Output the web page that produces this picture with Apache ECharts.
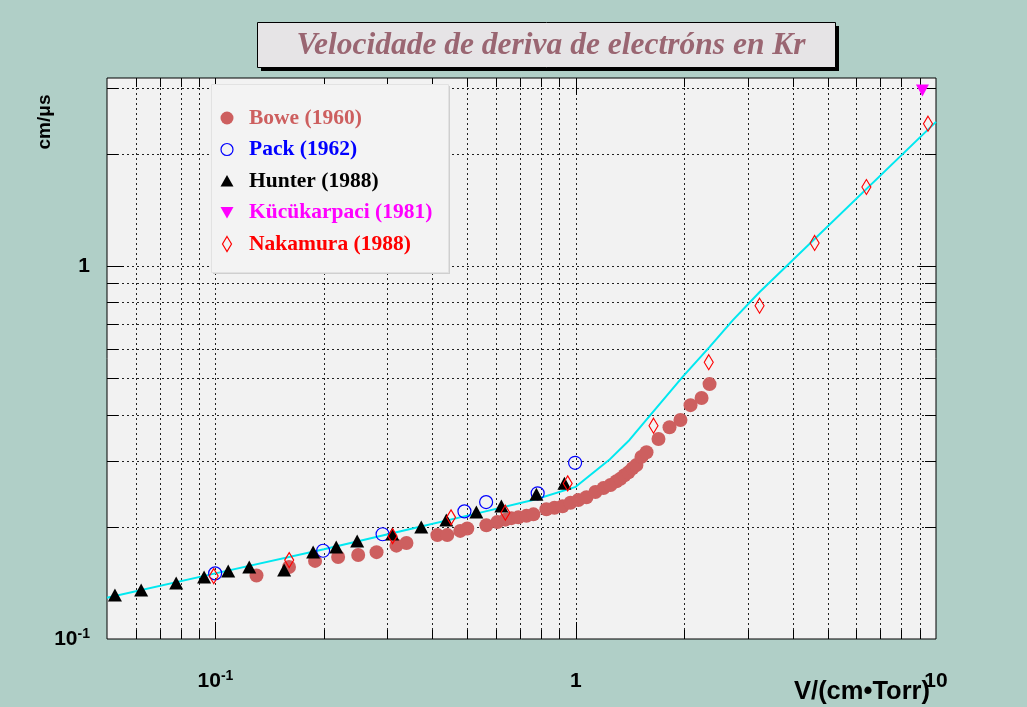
<!DOCTYPE html>
<html><head><meta charset="utf-8">
<script src="https://cdn.jsdelivr.net/npm/echarts@6/dist/echarts.min.js"></script>
<style>html,body{margin:0;padding:0;background:#b0cfc7;} #c{width:1027px;height:707px;}</style>
</head><body><div id="c"></div>
<script>
// ---- data ----
const titleText = 'Velocidade de deriva de electróns en Kr';
const xName = 'V/(cm•Torr)';
const yName = 'cm/μs';
const seriesNames = ['Bowe (1960)', 'Pack (1962)', 'Hunter (1988)', 'Kücükarpaci (1981)', 'Nakamura (1988)'];

const boweX = [0.130,0.160,0.189,0.219,0.249,0.280,0.318,0.339,0.413,0.440,0.478,0.500,0.565,0.606,0.638,0.663,0.693,0.730,0.763,0.829,0.873,0.919,0.967,1.017,1.071,1.134,1.194,1.249,1.297,1.331,1.366,1.401,1.437,1.474,1.522,1.572,1.697,1.821,1.953,2.083,2.235,2.352];
const boweY = [0.148,0.156,0.162,0.166,0.168,0.171,0.178,0.181,0.190,0.190,0.195,0.198,0.202,0.206,0.209,0.211,0.212,0.214,0.216,0.223,0.225,0.227,0.232,0.236,0.240,0.248,0.254,0.259,0.265,0.269,0.275,0.280,0.287,0.293,0.308,0.317,0.344,0.370,0.387,0.424,0.443,0.483];

const packX = [0.0998,0.199,0.291,0.491,0.564,0.784,0.996];
const packY = [0.150,0.1725,0.191,0.220,0.233,0.246,0.297];

const hunterX = [0.0526,0.0622,0.0778,0.0930,0.1085,0.1241,0.1551,0.1867,0.2164,0.2474,0.3096,0.3726,0.4373,0.5299,0.6217,0.7777,0.9303];
const hunterY = [0.1312,0.1353,0.1413,0.1466,0.1522,0.1560,0.1531,0.1711,0.1764,0.1831,0.1912,0.1997,0.2085,0.2191,0.2273,0.2447,0.2619];

const kucukX = [9.17];
const kucukY = [2.96];

const nakX = [0.0989,0.1602,0.3102,0.4507,0.6378,0.950,1.644,2.340,3.238,4.604,6.409,9.501];
const nakY = [0.1475,0.1628,0.1888,0.2120,0.2182,0.2615,0.3735,0.5529,0.7838,1.155,1.632,2.413];

const curveX = [0.05,0.1,0.2,0.345,0.54,0.776,1.0,1.237,1.41,1.57,1.98,2.35,2.73,3.24,10];
const curveY = [0.129,0.150,0.174,0.197,0.218,0.237,0.256,0.302,0.342,0.387,0.505,0.607,0.717,0.853,2.44];

const xMin = 0.05, xMax = 10, yMin = 0.1, yMax = 3.2;

// ---- helpers ----
const zip = (a, b) => a.map((v, i) => [v, b[i]]);
function gridValues(lo, hi) {
  const out = [];
  for (let e = -3; e <= 2; e++) {
    for (let m = 1; m <= 9; m++) {
      const v = +(m * Math.pow(10, e)).toPrecision(3);
      if (v > lo * 1.0001 && v < hi * 0.9999) out.push(v);
    }
  }
  return out;
}
const isDecade = v => Math.abs(Math.log10(v) - Math.round(Math.log10(v))) < 1e-6;
function decLabel(v) {
  if (!isDecade(v)) return '';
  const r = Math.round(Math.log10(v));
  if (r === 0) return '{n|1}';
  if (r === 1) return '{n|10}';
  return '{n|10}{s|' + r + '}';
}
const xGrid = gridValues(xMin, xMax);
const yGrid = gridValues(yMin, yMax);

const DOT = [2, 3];
function vLine(params, api) {
  const v = api.value(0);
  const cs = params.coordSys;
  const x = Math.round(api.coord([v, 1])[0]) + 0.5;
  const len = isDecade(v) ? 17 : 9;
  const top = cs.y, bot = cs.y + cs.height;
  return { type: 'group', silent: true, children: [
    { type: 'line', shape: { x1: x, y1: top, x2: x, y2: bot }, style: { stroke: '#222', lineWidth: 1, lineDash: DOT } },
    { type: 'line', shape: { x1: x, y1: bot, x2: x, y2: bot - len }, style: { stroke: '#000', lineWidth: 1 } },
    { type: 'line', shape: { x1: x, y1: top, x2: x, y2: top + len }, style: { stroke: '#000', lineWidth: 1 } }
  ]};
}
function hLine(params, api) {
  const v = api.value(1);
  const cs = params.coordSys;
  const y = Math.round(api.coord([1, v])[1]) + 0.5;
  const len = isDecade(v) ? 17 : 11;
  const l = cs.x, r = cs.x + cs.width;
  return { type: 'group', silent: true, children: [
    { type: 'line', shape: { x1: l, y1: y, x2: r, y2: y }, style: { stroke: '#222', lineWidth: 1, lineDash: DOT } },
    { type: 'line', shape: { x1: l, y1: y, x2: l + len, y2: y }, style: { stroke: '#000', lineWidth: 1 } },
    { type: 'line', shape: { x1: r, y1: y, x2: r - len, y2: y }, style: { stroke: '#000', lineWidth: 1 } }
  ]};
}

const SANS = 'Liberation Sans';
const SERIF = 'Liberation Serif';
const lblRich = {
  n: { fontFamily: SANS, fontWeight: 'bold', fontSize: 21, color: '#000', lineHeight: 24 },
  s: { fontFamily: SANS, fontWeight: 'bold', fontSize: 14, color: '#000', verticalAlign: 'top', lineHeight: 14 }
};

const chart = echarts.init(document.getElementById('c'), null, { renderer: 'canvas' });

// legend (drawn as graphic to match ROOT TLegend layout)
const LZ = 100;
const LX = 227, LY0 = 118, LDY = 31.5;
const legendColors = ['#cd5f5f', '#0000ff', '#000000', '#ff00ff', '#ff0000'];
function legendMarker(i, cy) {
  const c = legendColors[i];
  if (i === 0) return { type: 'circle', z: LZ + 2, shape: { cx: LX, cy, r: 6.5 }, style: { fill: c } };
  if (i === 1) return { type: 'circle', z: LZ + 2, shape: { cx: LX, cy, r: 6 }, style: { fill: 'none', stroke: c, lineWidth: 1.2 } };
  if (i === 2) return { type: 'polygon', z: LZ + 2, shape: { points: [[LX, cy - 6], [LX + 6.5, cy + 5.5], [LX - 6.5, cy + 5.5]] }, style: { fill: c } };
  if (i === 3) return { type: 'polygon', z: LZ + 2, shape: { points: [[LX, cy + 6], [LX + 6.5, cy - 5.5], [LX - 6.5, cy - 5.5]] }, style: { fill: c } };
  return { type: 'polygon', z: LZ + 2, shape: { points: [[LX, cy - 7.5], [LX + 4.5, cy], [LX, cy + 7.5], [LX - 4.5, cy]] }, style: { fill: 'none', stroke: c, lineWidth: 1.2 } };
}
const legendEls = [
  { type: 'rect', z: LZ, shape: { x: 213, y: 86, width: 237, height: 188 }, style: { fill: '#cfcfcf' } },
  { type: 'rect', z: LZ + 1, shape: { x: 211.5, y: 84.5, width: 237, height: 188 }, style: { fill: '#f3f3f3', stroke: '#e2e2e2', lineWidth: 1 } }
];
seriesNames.forEach((n, i) => {
  const cy = LY0 + i * LDY;
  legendEls.push(legendMarker(i, cy));
  legendEls.push({ type: 'text', z: LZ + 2, style: { text: n, x: 249, y: cy, verticalAlign: 'middle', fill: legendColors[i], font: 'bold 21.5px "' + SERIF + '"' } });
});

const option = {
  backgroundColor: '#b0cfc7',
  animation: false,
  title: {
    text: titleText, left: 546, top: 24, textAlign: 'center',
    textStyle: { fontFamily: SERIF, fontStyle: 'italic', fontWeight: 'bold', fontSize: 31.5, color: '#9a6672', lineHeight: 34 }
  },
  grid: { left: 107, right: 91, top: 78, bottom: 68, show: true, backgroundColor: '#f2f2f2', borderColor: '#000', borderWidth: 1 },
  xAxis: {
    type: 'log', logBase: 10, min: xMin, max: xMax,
    axisLine: { show: false }, axisTick: { show: false }, splitLine: { show: false }, minorTick: { show: false },
    axisLabel: { formatter: decLabel, margin: 30, rich: lblRich, showMinLabel: true, showMaxLabel: true, hideOverlap: false }
  },
  yAxis: {
    type: 'log', logBase: 10, min: yMin, max: yMax,
    axisLine: { show: false }, axisTick: { show: false }, splitLine: { show: false }, minorTick: { show: false },
    axisLabel: { formatter: decLabel, margin: 17, rich: lblRich, showMinLabel: true, showMaxLabel: true, hideOverlap: false }
  },
  graphic: [
    { type: 'rect', z: -1, shape: { x: 261, y: 26, width: 578, height: 45 }, style: { fill: '#000' } },
    { type: 'rect', z: -1, shape: { x: 257.5, y: 22.5, width: 578, height: 45 }, style: { fill: '#e6e4e6', stroke: '#000', lineWidth: 1 } }
  ].concat(legendEls).concat([
    { type: 'text', z: 100, style: { text: xName, x: 930, y: 692, align: 'right', verticalAlign: 'middle', fill: '#000', font: 'bold 25.5px "' + SANS + '"' } },
    { type: 'text', z: 100, rotation: Math.PI / 2, x: 45, y: 122, style: { text: yName, align: 'center', verticalAlign: 'middle', fill: '#000', font: 'bold 19px "' + SANS + '"' } }
  ]),
  series: [
    { type: 'custom', name: 'xgrid', renderItem: vLine, data: xGrid.map(v => [v, 1]), encode: { x: 0, y: 1 }, silent: true, z: 1, clip: false },
    { type: 'custom', name: 'ygrid', renderItem: hLine, data: yGrid.map(v => [1, v]), encode: { x: 0, y: 1 }, silent: true, z: 1, clip: false },
    { type: 'line', name: 'fit', data: zip(curveX, curveY), showSymbol: false, symbol: 'none', z: 2,
      lineStyle: { color: '#00e8f0', width: 2 } },
    { type: 'scatter', name: seriesNames[0], data: zip(boweX, boweY), symbol: 'circle', symbolSize: 14, z: 3,
      itemStyle: { color: '#cd5f5f', opacity: 1 } },
    { type: 'scatter', name: seriesNames[1], data: zip(packX, packY), symbol: 'circle', symbolSize: 13, z: 4,
      itemStyle: { color: 'rgba(0,0,0,0)', borderColor: '#0000ff', borderWidth: 1.2, opacity: 1 } },
    { type: 'scatter', name: seriesNames[2], data: zip(hunterX, hunterY), symbol: 'triangle', symbolSize: [14, 13], z: 5,
      itemStyle: { color: '#000', opacity: 1 } },
    { type: 'scatter', name: seriesNames[3], data: zip(kucukX, kucukY), symbol: 'triangle', symbolRotate: 180, symbolSize: [13, 12], z: 6,
      itemStyle: { color: '#ff00ff', opacity: 1 } },
    { type: 'scatter', name: seriesNames[4], data: zip(nakX, nakY), symbol: 'diamond', symbolSize: [9, 15], z: 7,
      itemStyle: { color: 'rgba(0,0,0,0)', borderColor: '#ff0000', borderWidth: 1.2, opacity: 1 } }
  ]
};
chart.setOption(option);
</script>
</body></html>
